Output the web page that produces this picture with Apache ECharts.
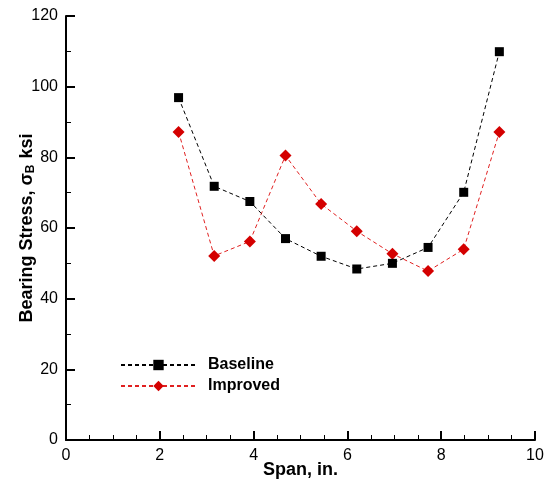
<!DOCTYPE html>
<html><head><meta charset="utf-8">
<script src="https://cdn.jsdelivr.net/npm/echarts@6/dist/echarts.min.js"></script>
<style>html,body{margin:0;padding:0;background:#fff}#c{width:547px;height:483px}</style>
</head><body><div id="c"></div>
<script>
const span = [2.40, 3.16, 3.92, 4.68, 5.44, 6.20, 6.96, 7.72, 8.48, 9.24];
const baseline = [96.9, 71.8, 67.5, 57.0, 52.0, 48.4, 50.0, 54.5, 70.1, 109.9];
const improved = [87.2, 52.1, 56.2, 80.5, 66.8, 59.1, 52.7, 47.8, 54.0, 87.2];
const xTicks = [0, 2, 4, 6, 8, 10];
const yTicks = [0, 20, 40, 60, 80, 100, 120];

const chart = echarts.init(document.getElementById('c'));
const font = 'Liberation Sans, Arial, sans-serif';
chart.setOption({
  animation: false,
  grid: {left: 66, right: 12, top: 16, bottom: 43, containLabel: false, outerBoundsMode: 'none'},
  legend: {
    orient: 'vertical', left: 120, top: 357, padding: 0, itemWidth: 75, itemHeight: 13, itemGap: 5,
    textStyle: {fontFamily: font, fontSize: 16, fontWeight: 'bold', color: '#000', padding: [0,0,0,7]},
    data: ['Baseline', 'Improved']
  },
  xAxis: {
    type: 'value', min: xTicks[0], max: xTicks[xTicks.length-1], interval: 2,
    name: 'Span, in.', nameLocation: 'middle', nameGap: 21, nameMoveOverlap: false,
    nameTextStyle: {fontFamily: font, fontSize: 18, fontWeight: 'bold', color: '#000', verticalAlign: 'top'},
    axisLine: {lineStyle: {color: '#000', width: 2}},
    axisTick: {inside: true, length: 9, lineStyle: {color: '#000', width: 2}},
    minorTick: {show: true, splitNumber: 4, length: 5, lineStyle: {color: '#000', width: 1}},
    axisLabel: {fontFamily: font, fontSize: 16, color: '#000', margin: 8},
    splitLine: {show: false}
  },
  yAxis: {
    type: 'value', min: yTicks[0], max: yTicks[yTicks.length-1], interval: 20,
    name: '{t|Bearing Stress, σ}{s|B}{t| ksi}', nameLocation: 'middle', nameGap: 29, nameRotate: 90, nameMoveOverlap: false,
    nameTextStyle: {
      rich: {
        t: {fontFamily: font, fontSize: 18, fontWeight: 'bold', color: '#000'},
        s: {fontFamily: font, fontSize: 12, fontWeight: 'bold', color: '#000', padding: [7,1,0,0]}
      }
    },
    axisLine: {show: true, lineStyle: {color: '#000', width: 2}},
    axisTick: {show: true, inside: true, length: 9, lineStyle: {color: '#000', width: 2}},
    minorTick: {show: true, splitNumber: 2, length: 5, lineStyle: {color: '#000', width: 1}},
    axisLabel: {fontFamily: font, fontSize: 16, color: '#000', margin: 8},
    splitLine: {show: false}
  },
  series: [
    {
      name: 'Baseline', type: 'line', data: span.map((x,i)=>[x, baseline[i]]),
      symbol: 'rect', symbolSize: 9, itemStyle: {color: '#000'},
      lineStyle: {color: '#000', width: 1, type: [4, 3]}, z: 3
    },
    {
      name: 'Improved', type: 'line', data: span.map((x,i)=>[x, improved[i]]),
      symbol: 'diamond', symbolSize: 12, itemStyle: {color: '#d40000'},
      lineStyle: {color: '#e02020', width: 1, type: [4, 3]}, z: 2
    }
  ]
});
</script></body></html>
